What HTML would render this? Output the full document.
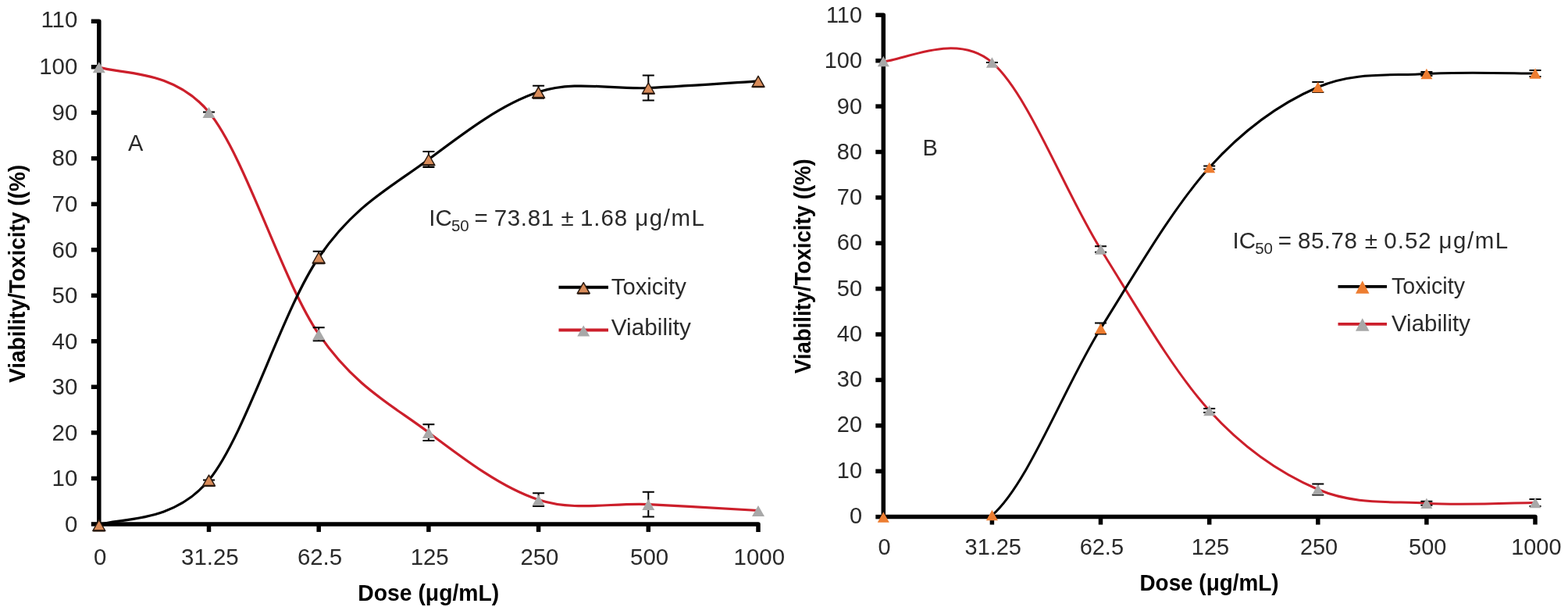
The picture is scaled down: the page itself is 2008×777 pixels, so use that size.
<!DOCTYPE html>
<html><head><meta charset="utf-8"><style>
html,body{margin:0;padding:0;background:#fff;}
svg{display:block;}
.tl{font-family:"Liberation Sans",sans-serif;fill:#2a2a2a;}
.tt{font-family:"Liberation Sans",sans-serif;font-size:29px;font-weight:bold;fill:#000;}
.ic{font-family:"Liberation Sans",sans-serif;font-size:29px;fill:#2a2a2a;}
.ic2{font-family:"Liberation Sans",sans-serif;font-size:29.5px;fill:#2a2a2a;}
.sub{font-size:20.5px;}
</style></head><body>
<svg width="2008" height="777" viewBox="0 0 2008 777">
<rect width="2008" height="777" fill="#fff"/>
<text transform="translate(99.30,680.90) scale(0.98,1)" class="tl" text-anchor="end" font-size="30">0</text>
<text transform="translate(99.30,622.34) scale(0.98,1)" class="tl" text-anchor="end" font-size="30">10</text>
<text transform="translate(99.30,563.77) scale(0.98,1)" class="tl" text-anchor="end" font-size="30">20</text>
<text transform="translate(99.30,505.20) scale(0.98,1)" class="tl" text-anchor="end" font-size="30">30</text>
<text transform="translate(99.30,446.64) scale(0.98,1)" class="tl" text-anchor="end" font-size="30">40</text>
<text transform="translate(99.30,388.07) scale(0.98,1)" class="tl" text-anchor="end" font-size="30">50</text>
<text transform="translate(99.30,329.51) scale(0.98,1)" class="tl" text-anchor="end" font-size="30">60</text>
<text transform="translate(99.30,270.94) scale(0.98,1)" class="tl" text-anchor="end" font-size="30">70</text>
<text transform="translate(99.30,212.38) scale(0.98,1)" class="tl" text-anchor="end" font-size="30">80</text>
<text transform="translate(99.30,153.81) scale(0.98,1)" class="tl" text-anchor="end" font-size="30">90</text>
<text transform="translate(99.30,95.25) scale(0.98,1)" class="tl" text-anchor="end" font-size="30">100</text>
<text transform="translate(99.30,35.19) scale(0.98,1)" class="tl" text-anchor="end" font-size="30">110</text>
<text transform="translate(128.10,722.50) scale(0.98,1)" class="tl" text-anchor="middle" font-size="30">0</text>
<text transform="translate(268.80,722.50) scale(0.98,1)" class="tl" text-anchor="middle" font-size="30">31.25</text>
<text transform="translate(409.50,722.50) scale(0.98,1)" class="tl" text-anchor="middle" font-size="30">62.5</text>
<text transform="translate(550.20,722.50) scale(0.98,1)" class="tl" text-anchor="middle" font-size="30">125</text>
<text transform="translate(690.90,722.50) scale(0.98,1)" class="tl" text-anchor="middle" font-size="30">250</text>
<text transform="translate(831.60,722.50) scale(0.98,1)" class="tl" text-anchor="middle" font-size="30">500</text>
<text transform="translate(972.30,722.50) scale(0.98,1)" class="tl" text-anchor="middle" font-size="30">1000</text>
<text x="548.8" y="768.9" class="tt" text-anchor="middle" textLength="181.0" lengthAdjust="spacingAndGlyphs">Dose (μg/mL)</text>
<text transform="translate(32.4,350.4) rotate(-90)" class="tt" text-anchor="middle" textLength="279.0" lengthAdjust="spacingAndGlyphs">Viability/Toxicity ((%)</text>
<g stroke="#000" stroke-width="5.5" fill="none">
<path d="M116.8,27.2 H126.8 V670.9 H971.0 V680.9" stroke-linejoin="round"/>
<path d="M116.8,670.9 H126.8"/>
<path d="M116.8,612.4 H126.8"/>
<path d="M116.8,553.9 H126.8"/>
<path d="M116.8,495.3 H126.8"/>
<path d="M116.8,436.8 H126.8"/>
<path d="M116.8,378.3 H126.8"/>
<path d="M116.8,319.8 H126.8"/>
<path d="M116.8,261.3 H126.8"/>
<path d="M116.8,202.8 H126.8"/>
<path d="M116.8,144.2 H126.8"/>
<path d="M116.8,85.7 H126.8"/>
<path d="M267.5,670.9 V680.9"/>
<path d="M408.2,670.9 V680.9"/>
<path d="M548.9,670.9 V680.9"/>
<path d="M689.6,670.9 V680.9"/>
<path d="M830.3,670.9 V680.9"/>
</g>
<clipPath id="clipA"><rect x="126.8" y="-2.8" width="874.2" height="673.7"/></clipPath>
<g clip-path="url(#clipA)">
<path d="M126.80,85.70 C150.25,95.35 220.60,86.60 267.50,143.60 C314.40,200.60 361.30,359.37 408.20,427.70 C455.10,496.03 502.00,518.27 548.90,553.60 C595.80,588.93 642.70,624.37 689.60,639.70 C736.50,655.03 783.40,643.30 830.30,645.60 C877.20,647.90 947.55,652.18 971.00,653.50" fill="none" stroke="#CC1F2B" stroke-width="3.2"/>
<path d="M126.80,672.00 C150.25,662.43 220.60,671.68 267.50,614.60 C314.40,557.52 361.30,397.93 408.20,329.50 C455.10,261.07 502.00,239.28 548.90,204.00 C595.80,168.72 642.70,133.05 689.60,117.80 C736.50,102.55 783.40,114.83 830.30,112.50 C877.20,110.17 947.55,105.25 971.00,103.80" fill="none" stroke="#000" stroke-width="3.2"/>
</g>


<path d="M267.5,143.6 V143.6" stroke="#000" stroke-width="2"/>
<path d="M260.0,143.6 H275.0 M260.0,143.6 H275.0" stroke="#000" stroke-width="2" fill="none"/>
<path d="M408.2,419.2 V436.2" stroke="#000" stroke-width="2"/>
<path d="M400.7,419.2 H415.7 M400.7,436.2 H415.7" stroke="#000" stroke-width="2" fill="none"/>
<path d="M548.9,543.2 V564.0" stroke="#000" stroke-width="2"/>
<path d="M541.4,543.2 H556.4 M541.4,564.0 H556.4" stroke="#000" stroke-width="2" fill="none"/>
<path d="M689.6,631.3 V648.1" stroke="#000" stroke-width="2"/>
<path d="M682.1,631.3 H697.1 M682.1,648.1 H697.1" stroke="#000" stroke-width="2" fill="none"/>
<path d="M830.3,629.7 V661.5" stroke="#000" stroke-width="2"/>
<path d="M822.8,629.7 H837.8 M822.8,661.5 H837.8" stroke="#000" stroke-width="2" fill="none"/>




<path d="M267.5,614.6 V614.6" stroke="#000" stroke-width="2"/>
<path d="M260.0,614.6 H275.0 M260.0,614.6 H275.0" stroke="#000" stroke-width="2" fill="none"/>
<path d="M408.2,321.8 V337.2" stroke="#000" stroke-width="2"/>
<path d="M400.7,321.8 H415.7 M400.7,337.2 H415.7" stroke="#000" stroke-width="2" fill="none"/>
<path d="M548.9,194.0 V214.0" stroke="#000" stroke-width="2"/>
<path d="M541.4,194.0 H556.4 M541.4,214.0 H556.4" stroke="#000" stroke-width="2" fill="none"/>
<path d="M689.6,109.8 V125.8" stroke="#000" stroke-width="2"/>
<path d="M682.1,109.8 H697.1 M682.1,125.8 H697.1" stroke="#000" stroke-width="2" fill="none"/>
<path d="M830.3,96.5 V128.5" stroke="#000" stroke-width="2"/>
<path d="M822.8,96.5 H837.8 M822.8,128.5 H837.8" stroke="#000" stroke-width="2" fill="none"/>


<path d="M126.80,79.20 L134.80,93.20 L118.80,93.20 Z" fill="#A8A8A8"/>
<path d="M267.50,137.10 L275.50,151.10 L259.50,151.10 Z" fill="#A8A8A8"/>
<path d="M408.20,421.20 L416.20,435.20 L400.20,435.20 Z" fill="#A8A8A8"/>
<path d="M548.90,547.10 L556.90,561.10 L540.90,561.10 Z" fill="#A8A8A8"/>
<path d="M689.60,633.20 L697.60,647.20 L681.60,647.20 Z" fill="#A8A8A8"/>
<path d="M830.30,639.10 L838.30,653.10 L822.30,653.10 Z" fill="#A8A8A8"/>
<path d="M971.00,647.00 L979.00,661.00 L963.00,661.00 Z" fill="#A8A8A8"/>
<path d="M126.80,665.50 L134.80,679.50 L118.80,679.50 Z" fill="#D98C5A" stroke="#2a1a10" stroke-width="1.5" stroke-linejoin="round"/><path d="M119.30,679.30 H134.30" stroke="#2a1a10" stroke-width="2.4"/>
<path d="M267.50,608.10 L275.50,622.10 L259.50,622.10 Z" fill="#D98C5A" stroke="#2a1a10" stroke-width="1.5" stroke-linejoin="round"/><path d="M260.00,621.90 H275.00" stroke="#2a1a10" stroke-width="2.4"/>
<path d="M408.20,323.00 L416.20,337.00 L400.20,337.00 Z" fill="#D98C5A" stroke="#2a1a10" stroke-width="1.5" stroke-linejoin="round"/><path d="M400.70,336.80 H415.70" stroke="#2a1a10" stroke-width="2.4"/>
<path d="M548.90,197.50 L556.90,211.50 L540.90,211.50 Z" fill="#D98C5A" stroke="#2a1a10" stroke-width="1.5" stroke-linejoin="round"/><path d="M541.40,211.30 H556.40" stroke="#2a1a10" stroke-width="2.4"/>
<path d="M689.60,111.30 L697.60,125.30 L681.60,125.30 Z" fill="#D98C5A" stroke="#2a1a10" stroke-width="1.5" stroke-linejoin="round"/><path d="M682.10,125.10 H697.10" stroke="#2a1a10" stroke-width="2.4"/>
<path d="M830.30,106.00 L838.30,120.00 L822.30,120.00 Z" fill="#D98C5A" stroke="#2a1a10" stroke-width="1.5" stroke-linejoin="round"/><path d="M822.80,119.80 H837.80" stroke="#2a1a10" stroke-width="2.4"/>
<path d="M971.00,97.30 L979.00,111.30 L963.00,111.30 Z" fill="#D98C5A" stroke="#2a1a10" stroke-width="1.5" stroke-linejoin="round"/><path d="M963.50,111.10 H978.50" stroke="#2a1a10" stroke-width="2.4"/>
<text class="ic2"><tspan x="549.3" y="289.0">IC</tspan><tspan class="sub" x="577.9" y="296.0">50</tspan><tspan x="607.4" y="289.0">=</tspan><tspan x="632.7" y="289.0" style="letter-spacing:0.65px">73.81</tspan><tspan x="718.5" y="289.0">±</tspan><tspan x="743.0" y="289.0" style="letter-spacing:0.90px">1.68</tspan><tspan x="813.3" y="289.0" style="letter-spacing:1.50px">μg/mL</tspan></text>
<text x="164.0" y="193.0" class="ic">A</text>
<path d="M715.5,367.7 H779.0" stroke="#000" stroke-width="4"/>
<path d="M747.25,361.70 L755.25,375.70 L739.25,375.70 Z" fill="#D98C5A" stroke="#2a1a10" stroke-width="1.5" stroke-linejoin="round"/><path d="M739.75,375.50 H754.75" stroke="#2a1a10" stroke-width="2.4"/>
<text x="782.8" y="377.3" class="ic" textLength="96.0" lengthAdjust="spacingAndGlyphs">Toxicity</text>
<path d="M715.5,422.4 H779.0" stroke="#CC1F2B" stroke-width="4"/>
<path d="M747.25,416.40 L755.25,430.40 L739.25,430.40 Z" fill="#A8A8A8"/>
<text x="782.8" y="429.4" class="ic" textLength="102.0" lengthAdjust="spacingAndGlyphs">Viability</text>
<text transform="translate(1104.00,669.80) scale(0.98,1)" class="tl" text-anchor="end" font-size="29.5">0</text>
<text transform="translate(1104.00,611.56) scale(0.98,1)" class="tl" text-anchor="end" font-size="29.5">10</text>
<text transform="translate(1104.00,553.32) scale(0.98,1)" class="tl" text-anchor="end" font-size="29.5">20</text>
<text transform="translate(1104.00,495.08) scale(0.98,1)" class="tl" text-anchor="end" font-size="29.5">30</text>
<text transform="translate(1104.00,436.84) scale(0.98,1)" class="tl" text-anchor="end" font-size="29.5">40</text>
<text transform="translate(1104.00,378.60) scale(0.98,1)" class="tl" text-anchor="end" font-size="29.5">50</text>
<text transform="translate(1104.00,320.36) scale(0.98,1)" class="tl" text-anchor="end" font-size="29.5">60</text>
<text transform="translate(1104.00,262.12) scale(0.98,1)" class="tl" text-anchor="end" font-size="29.5">70</text>
<text transform="translate(1104.00,203.88) scale(0.98,1)" class="tl" text-anchor="end" font-size="29.5">80</text>
<text transform="translate(1104.00,145.64) scale(0.98,1)" class="tl" text-anchor="end" font-size="29.5">90</text>
<text transform="translate(1104.00,87.40) scale(0.98,1)" class="tl" text-anchor="end" font-size="29.5">100</text>
<text transform="translate(1104.00,29.16) scale(0.98,1)" class="tl" text-anchor="end" font-size="29.5">110</text>
<text transform="translate(1132.60,710.30) scale(0.98,1)" class="tl" text-anchor="middle" font-size="29.5">0</text>
<text transform="translate(1271.72,710.30) scale(0.98,1)" class="tl" text-anchor="middle" font-size="29.5">31.25</text>
<text transform="translate(1410.84,710.30) scale(0.98,1)" class="tl" text-anchor="middle" font-size="29.5">62.5</text>
<text transform="translate(1549.96,710.30) scale(0.98,1)" class="tl" text-anchor="middle" font-size="29.5">125</text>
<text transform="translate(1689.08,710.30) scale(0.98,1)" class="tl" text-anchor="middle" font-size="29.5">250</text>
<text transform="translate(1828.20,710.30) scale(0.98,1)" class="tl" text-anchor="middle" font-size="29.5">500</text>
<text transform="translate(1967.32,710.30) scale(0.98,1)" class="tl" text-anchor="middle" font-size="29.5">1000</text>
<text x="1548.5" y="756.2" class="tt" text-anchor="middle" textLength="178.0" lengthAdjust="spacingAndGlyphs">Dose (μg/mL)</text>
<text transform="translate(1038.1,340.7) rotate(-90)" class="tt" text-anchor="middle" textLength="275.0" lengthAdjust="spacingAndGlyphs">Viability/Toxicity ((%)</text>
<g stroke="#000" stroke-width="5.5" fill="none">
<path d="M1121.3,19.3 H1131.3 V661.6 H1966.0 V671.6" stroke-linejoin="round"/>
<path d="M1121.3,661.6 H1131.3"/>
<path d="M1121.3,603.2 H1131.3"/>
<path d="M1121.3,544.8 H1131.3"/>
<path d="M1121.3,486.4 H1131.3"/>
<path d="M1121.3,428.0 H1131.3"/>
<path d="M1121.3,369.6 H1131.3"/>
<path d="M1121.3,311.3 H1131.3"/>
<path d="M1121.3,252.9 H1131.3"/>
<path d="M1121.3,194.5 H1131.3"/>
<path d="M1121.3,136.1 H1131.3"/>
<path d="M1121.3,77.7 H1131.3"/>
<path d="M1270.4,661.6 V671.6"/>
<path d="M1409.5,661.6 V671.6"/>
<path d="M1548.7,661.6 V671.6"/>
<path d="M1687.8,661.6 V671.6"/>
<path d="M1826.9,661.6 V671.6"/>
</g>
<clipPath id="clipB"><rect x="1131.3" y="-10.7" width="864.7" height="672.3"/></clipPath>
<g clip-path="url(#clipB)">
<path d="M1131.30,78.50 C1154.49,78.75 1224.05,39.92 1270.42,80.00 C1316.79,120.08 1363.17,244.75 1409.54,319.00 C1455.91,393.25 1502.29,474.25 1548.66,525.50 C1595.03,576.75 1641.41,606.72 1687.78,626.50 C1734.15,646.28 1780.53,641.38 1826.90,644.20 C1873.27,647.02 1942.83,643.53 1966.02,643.40" fill="none" stroke="#CC1F2B" stroke-width="3.0"/>
<path d="M1131.30,662.00 C1154.49,661.60 1224.05,699.85 1270.42,659.60 C1316.79,619.35 1363.17,494.68 1409.54,420.50 C1455.91,346.32 1502.29,266.00 1548.66,214.50 C1595.03,163.00 1641.41,131.50 1687.78,111.50 C1734.15,91.50 1780.53,97.42 1826.90,94.50 C1873.27,91.58 1942.83,94.08 1966.02,94.00" fill="none" stroke="#000" stroke-width="3.0"/>
</g>


<path d="M1270.4,80.0 V80.0" stroke="#000" stroke-width="2"/>
<path d="M1262.9,80.0 H1277.9 M1262.9,80.0 H1277.9" stroke="#000" stroke-width="2" fill="none"/>
<path d="M1409.5,315.3 V322.7" stroke="#000" stroke-width="2"/>
<path d="M1402.0,315.3 H1417.0 M1402.0,322.7 H1417.0" stroke="#000" stroke-width="2" fill="none"/>
<path d="M1548.7,523.1 V527.9" stroke="#000" stroke-width="2"/>
<path d="M1541.2,523.1 H1556.2 M1541.2,527.9 H1556.2" stroke="#000" stroke-width="2" fill="none"/>
<path d="M1687.8,619.5 V633.5" stroke="#000" stroke-width="2"/>
<path d="M1680.3,619.5 H1695.3 M1680.3,633.5 H1695.3" stroke="#000" stroke-width="2" fill="none"/>
<path d="M1826.9,641.7 V646.7" stroke="#000" stroke-width="2"/>
<path d="M1819.4,641.7 H1834.4 M1819.4,646.7 H1834.4" stroke="#000" stroke-width="2" fill="none"/>
<path d="M1966.0,638.9 V647.9" stroke="#000" stroke-width="2"/>
<path d="M1958.5,638.9 H1973.5 M1958.5,647.9 H1973.5" stroke="#000" stroke-width="2" fill="none"/>




<path d="M1409.5,413.5 V427.5" stroke="#000" stroke-width="2"/>
<path d="M1402.0,413.5 H1417.0 M1402.0,427.5 H1417.0" stroke="#000" stroke-width="2" fill="none"/>
<path d="M1548.7,212.5 V216.5" stroke="#000" stroke-width="2"/>
<path d="M1541.2,212.5 H1556.2 M1541.2,216.5 H1556.2" stroke="#000" stroke-width="2" fill="none"/>
<path d="M1687.8,105.0 V118.0" stroke="#000" stroke-width="2"/>
<path d="M1680.3,105.0 H1695.3 M1680.3,118.0 H1695.3" stroke="#000" stroke-width="2" fill="none"/>
<path d="M1826.9,92.0 V97.0" stroke="#000" stroke-width="2"/>
<path d="M1819.4,92.0 H1834.4 M1819.4,97.0 H1834.4" stroke="#000" stroke-width="2" fill="none"/>
<path d="M1966.0,90.0 V98.0" stroke="#000" stroke-width="2"/>
<path d="M1958.5,90.0 H1973.5 M1958.5,98.0 H1973.5" stroke="#000" stroke-width="2" fill="none"/>
<path d="M1131.30,71.75 L1138.80,85.25 L1123.80,85.25 Z" fill="#A8A8A8"/>
<path d="M1270.42,73.25 L1277.92,86.75 L1262.92,86.75 Z" fill="#A8A8A8"/>
<path d="M1409.54,312.25 L1417.04,325.75 L1402.04,325.75 Z" fill="#A8A8A8"/>
<path d="M1548.66,518.75 L1556.16,532.25 L1541.16,532.25 Z" fill="#A8A8A8"/>
<path d="M1687.78,619.75 L1695.28,633.25 L1680.28,633.25 Z" fill="#A8A8A8"/>
<path d="M1826.90,637.45 L1834.40,650.95 L1819.40,650.95 Z" fill="#A8A8A8"/>
<path d="M1966.02,636.65 L1973.52,650.15 L1958.52,650.15 Z" fill="#A8A8A8"/>
<path d="M1131.30,655.25 L1138.80,668.75 L1123.80,668.75 Z" fill="#ED7D31"/>
<path d="M1270.42,652.85 L1277.92,666.35 L1262.92,666.35 Z" fill="#ED7D31"/>
<path d="M1409.54,413.75 L1417.04,427.25 L1402.04,427.25 Z" fill="#ED7D31"/>
<path d="M1548.66,207.75 L1556.16,221.25 L1541.16,221.25 Z" fill="#ED7D31"/>
<path d="M1687.78,104.75 L1695.28,118.25 L1680.28,118.25 Z" fill="#ED7D31"/>
<path d="M1826.90,87.75 L1834.40,101.25 L1819.40,101.25 Z" fill="#ED7D31"/>
<path d="M1966.02,87.25 L1973.52,100.75 L1958.52,100.75 Z" fill="#ED7D31"/>
<text class="ic2"><tspan x="1578.6" y="317.5">IC</tspan><tspan class="sub" x="1607.2" y="324.5">50</tspan><tspan x="1636.7" y="317.5">=</tspan><tspan x="1662.0" y="317.5" style="letter-spacing:0.50px">85.78</tspan><tspan x="1747.8" y="317.5">±</tspan><tspan x="1772.3" y="317.5" style="letter-spacing:1.00px">0.52</tspan><tspan x="1842.6" y="317.5" style="letter-spacing:1.50px">μg/mL</tspan></text>
<text x="1181.5" y="198.6" class="ic">B</text>
<path d="M1713.5,366.9 H1776.0" stroke="#000" stroke-width="3.8"/>
<path d="M1744.75,359.15 L1753.50,375.65 L1736.00,375.65 Z" fill="#ED7D31"/>
<text x="1782.0" y="376.4" class="ic" textLength="94.0" lengthAdjust="spacingAndGlyphs">Toxicity</text>
<path d="M1713.5,414.9 H1776.0" stroke="#CC1F2B" stroke-width="3.8"/>
<path d="M1744.75,407.15 L1753.50,423.65 L1736.00,423.65 Z" fill="#A8A8A8"/>
<text x="1782.0" y="424.1" class="ic" textLength="101.0" lengthAdjust="spacingAndGlyphs">Viability</text>
</svg>
</body></html>
